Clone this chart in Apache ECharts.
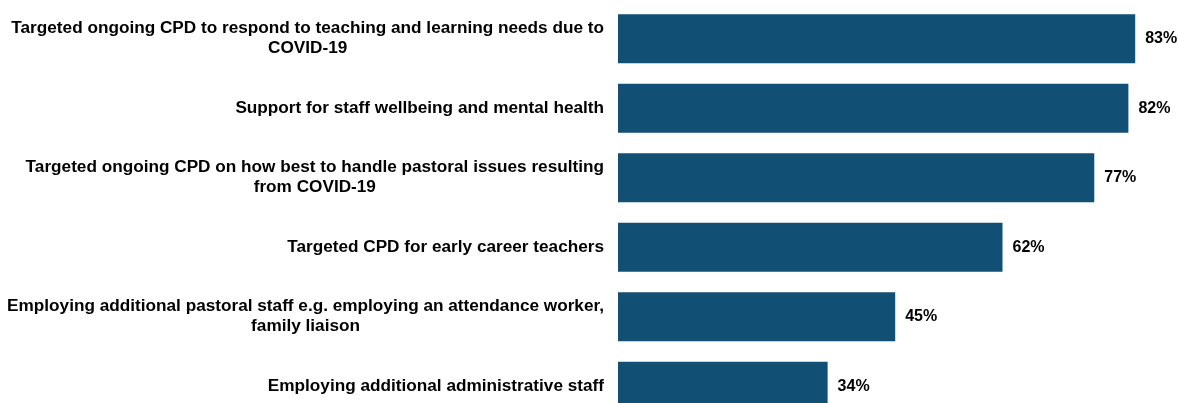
<!DOCTYPE html>
<html>
<head>
<meta charset="utf-8">
<script src="https://cdn.jsdelivr.net/npm/echarts@6/dist/echarts.min.js"></script>
<style>
    html, body { margin: 0; padding: 0; background: #fff; overflow: hidden; }
    /* 原图最后一根柱子被截掉，所以画布比窗口高一点 */
    #chart { width: 1178px; height: 421px; }
</style>
</head>
<body>
<div id="chart"></div>
<script>
// categories (top to bottom), line breaks as in the original
var categories = [
    'Targeted ongoing CPD to respond to teaching and learning needs due to\nCOVID-19',
    'Support for staff wellbeing and mental health',
    'Targeted ongoing CPD on how best to handle pastoral issues resulting\nfrom COVID-19',
    'Targeted CPD for early career teachers',
    'Employing additional pastoral staff e.g. employing an attendance worker,\nfamily liaison',
    'Employing additional administrative staff'
];
// bar lengths; labels show them rounded
var values = [83.4, 82.3, 76.8, 62.0, 44.7, 33.8];

var barColor = '#124f75';

var chart = echarts.init(document.getElementById('chart'));
var option = {
    animation: false,
    grid: {
        left: 618,
        right: 0,
        top: 4,
        bottom: 0,
        containLabel: false
    },
    xAxis: {
        type: 'value',
        min: 0,
        max: 90.3,
        show: false
    },
    yAxis: {
        type: 'category',
        inverse: true,
        data: categories,
        axisLine: { show: false },
        axisTick: { show: false },
        axisLabel: {
            margin: 14,
            formatter: function (v) {
                // 每行居中
                return v.split('\n').map(function (s) { return '{c|' + s + '}'; }).join('\n');
            },
            rich: {
                c: {
                    align: 'center',
                    fontFamily: '"Liberation Sans", Arial, sans-serif',
                    fontWeight: 'bold',
                    fontSize: 17.2,
                    lineHeight: 20,
                    color: '#000'
                }
            }
        }
    },
    series: [{
        type: 'bar',
        data: values,
        barWidth: 49,
        itemStyle: { color: barColor },
        label: {
            show: true,
            position: 'right',
            distance: 10,
            formatter: function (p) {
                return Math.round(p.value) + '%';
            },
            fontFamily: '"Liberation Sans", Arial, sans-serif',
            fontWeight: 'bold',
            fontSize: 16,
            color: '#000'
        }
    }]
};
chart.setOption(option);
</script>
</body>
</html>
